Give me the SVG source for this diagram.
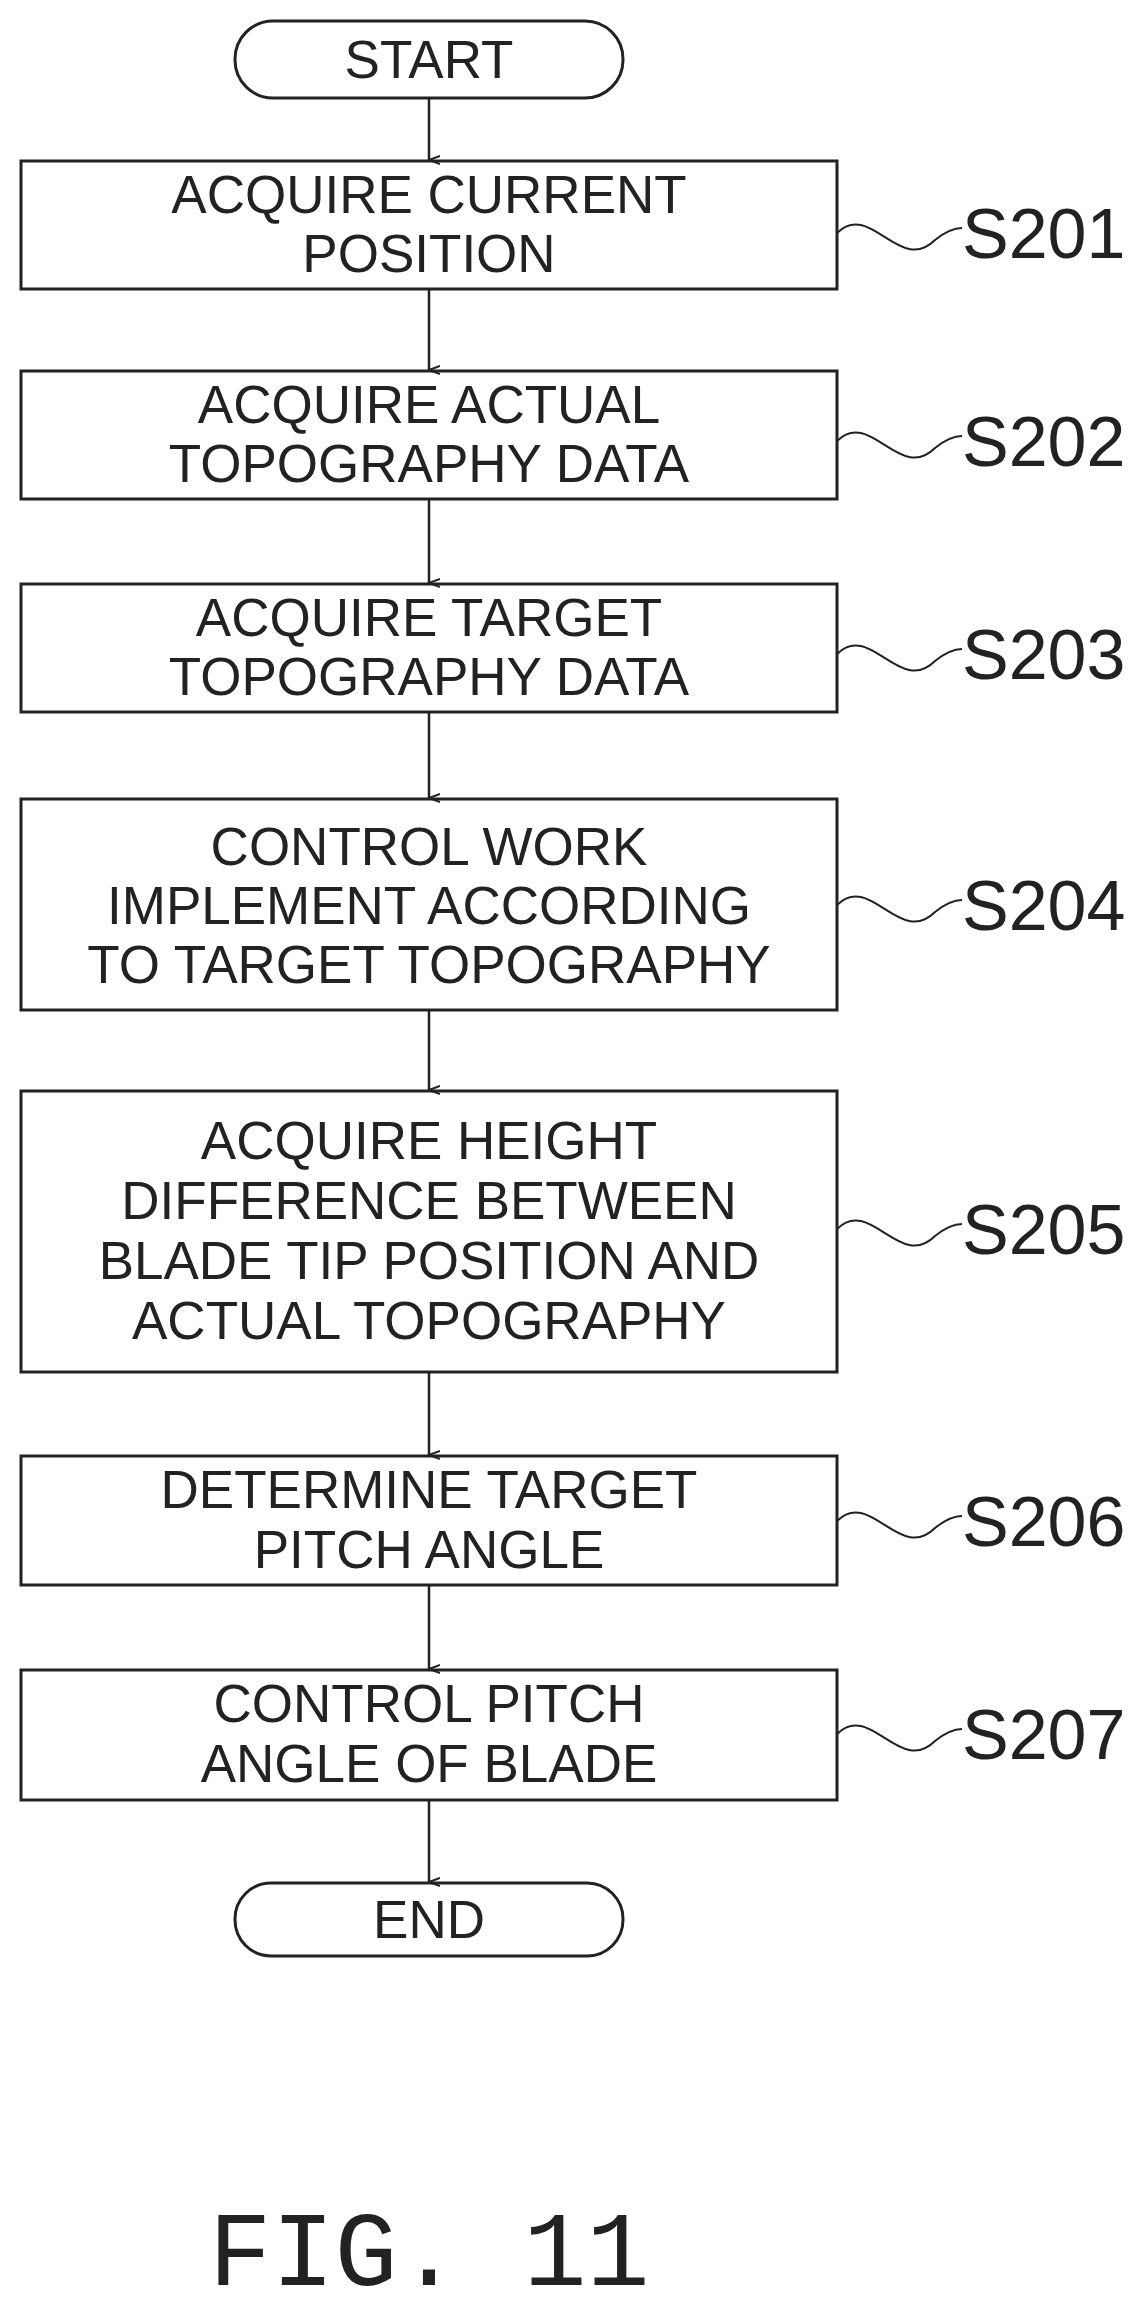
<svg xmlns="http://www.w3.org/2000/svg" width="1147" height="2321" viewBox="0 0 1147 2321">
<style>
.b{fill:#fff;stroke:#222;stroke-width:3}
.t{font-family:"Liberation Sans",Arial,sans-serif;font-size:53px;fill:#222;text-anchor:middle}
.s{font-family:"Liberation Sans",Arial,sans-serif;font-size:70px;fill:#222}
.c{stroke:#222;stroke-width:2.5;fill:none}
.w{stroke:#222;stroke-width:2;fill:none}
</style>
<defs><marker id="a" markerWidth="12" markerHeight="12" refX="6" refY="11" orient="auto" markerUnits="userSpaceOnUse"><path d="M2,0 L6,11 L10,0" fill="none" stroke="#222" stroke-width="2"/></marker></defs>
<rect width="1147" height="2321" fill="#fff"/>
<g id="start"><rect class="b" x="235" y="21" width="388" height="77" rx="38"/><text class="t" x="429" y="78">START</text></g>
<g id="s201"><rect class="b" x="21" y="161" width="816" height="128"/><text class="t" x="429" y="213">ACQUIRE CURRENT</text><text class="t" x="429" y="272">POSITION</text>
<path class="w" d="M837,233 C870,200 900,275 935,240 Q950,228 962,228"/><text class="s" x="962" y="258">S201</text></g>
<g id="s202"><rect class="b" x="21" y="371" width="816" height="128"/><text class="t" x="429" y="423">ACQUIRE ACTUAL</text><text class="t" x="429" y="482">TOPOGRAPHY DATA</text>
<path class="w" d="M837,441 C870,408 900,483 935,448 Q950,436 962,436"/><text class="s" x="962" y="466">S202</text></g>
<g id="s203"><rect class="b" x="21" y="584" width="816" height="128"/><text class="t" x="429" y="636">ACQUIRE TARGET</text><text class="t" x="429" y="695">TOPOGRAPHY DATA</text>
<path class="w" d="M837,654 C870,621 900,696 935,661 Q950,649 962,649"/><text class="s" x="962" y="679">S203</text></g>
<g id="s204"><rect class="b" x="21" y="799" width="816" height="211"/><text class="t" x="429" y="865">CONTROL WORK</text><text class="t" x="429" y="924">IMPLEMENT ACCORDING</text><text class="t" x="429" y="983">TO TARGET TOPOGRAPHY</text>
<path class="w" d="M837,905 C870,872 900,947 935,912 Q950,900 962,900"/><text class="s" x="962" y="930">S204</text></g>
<g id="s205"><rect class="b" x="21" y="1091" width="816" height="281"/><text class="t" x="429" y="1159">ACQUIRE HEIGHT</text><text class="t" x="429" y="1219">DIFFERENCE BETWEEN</text><text class="t" x="429" y="1279">BLADE TIP POSITION AND</text><text class="t" x="429" y="1339">ACTUAL TOPOGRAPHY</text>
<path class="w" d="M837,1229 C870,1196 900,1271 935,1236 Q950,1224 962,1224"/><text class="s" x="962" y="1254">S205</text></g>
<g id="s206"><rect class="b" x="21" y="1456" width="816" height="129"/><text class="t" x="429" y="1508">DETERMINE TARGET</text><text class="t" x="429" y="1568">PITCH ANGLE</text>
<path class="w" d="M837,1521 C870,1488 900,1563 935,1528 Q950,1516 962,1516"/><text class="s" x="962" y="1546">S206</text></g>
<g id="s207"><rect class="b" x="21" y="1670" width="816" height="130"/><text class="t" x="429" y="1722">CONTROL PITCH</text><text class="t" x="429" y="1782">ANGLE OF BLADE</text>
<path class="w" d="M837,1734 C870,1701 900,1776 935,1741 Q950,1729 962,1729"/><text class="s" x="962" y="1759">S207</text></g>
<g id="end"><rect class="b" x="235" y="1883" width="388" height="73" rx="36"/><text class="t" x="429" y="1938">END</text></g>
<g id="connectors">
<line class="c" x1="429" y1="98" x2="429" y2="160" marker-end="url(#a)"/>
<line class="c" x1="429" y1="289" x2="429" y2="370" marker-end="url(#a)"/>
<line class="c" x1="429" y1="499" x2="429" y2="583" marker-end="url(#a)"/>
<line class="c" x1="429" y1="712" x2="429" y2="798" marker-end="url(#a)"/>
<line class="c" x1="429" y1="1010" x2="429" y2="1090" marker-end="url(#a)"/>
<line class="c" x1="429" y1="1372" x2="429" y2="1455" marker-end="url(#a)"/>
<line class="c" x1="429" y1="1585" x2="429" y2="1669" marker-end="url(#a)"/>
<line class="c" x1="429" y1="1800" x2="429" y2="1882" marker-end="url(#a)"/>
</g>
<text x="429" y="2285" font-family="Liberation Mono,monospace" font-size="105" fill="#222" text-anchor="middle">FIG. 11</text>
</svg>
